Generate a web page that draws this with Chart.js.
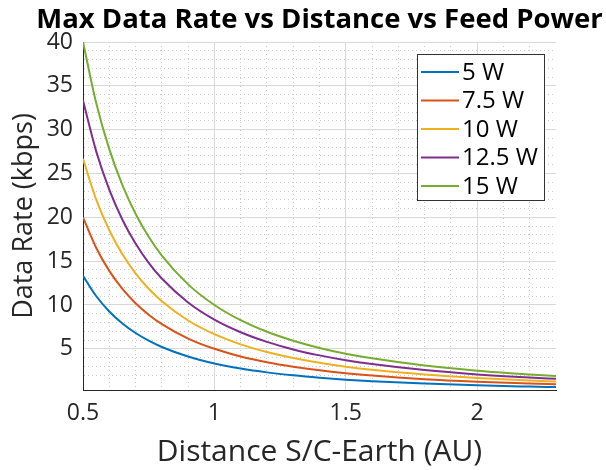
<!DOCTYPE html>
<html>
<head>
<meta charset="utf-8">
<script src="https://cdn.jsdelivr.net/npm/chart.js@4"></script>
<style>
  body { margin: 0; background: #fff; }
  #wrap { width: 606px; height: 470px; }
</style>
</head>
<body>
<div id="wrap"><canvas id="rateChart" width="606" height="470"></canvas></div>
<script>
// distance S/C-Earth (AU) and data rate (kbps)
const distances = [0.5, 0.55, 0.6, 0.65, 0.7, 0.75, 0.8, 0.9, 1.0, 1.1, 1.2, 1.3, 1.4, 1.5, 1.6, 1.8, 2.0, 2.2, 2.3];
const rate5W    = [13.33, 11.02, 9.26, 7.89, 6.80, 5.93, 5.21, 4.12, 3.33, 2.75, 2.31, 1.97, 1.70, 1.48, 1.30, 1.03, 0.83, 0.69, 0.63];
const rate7p5W  = [20.00, 16.53, 13.89, 11.83, 10.20, 8.89, 7.81, 6.17, 5.00, 4.13, 3.47, 2.96, 2.55, 2.22, 1.95, 1.54, 1.25, 1.03, 0.95];
const rate10W   = [26.67, 22.04, 18.52, 15.78, 13.61, 11.85, 10.42, 8.23, 6.67, 5.51, 4.63, 3.94, 3.40, 2.96, 2.60, 2.06, 1.67, 1.38, 1.26];
const rate12p5W = [33.33, 27.55, 23.15, 19.72, 17.01, 14.81, 13.02, 10.29, 8.33, 6.89, 5.79, 4.93, 4.25, 3.70, 3.26, 2.57, 2.08, 1.72, 1.58];
const rate15W   = [40.00, 33.06, 27.78, 23.67, 20.41, 17.78, 15.63, 12.35, 10.00, 8.26, 6.94, 5.92, 5.10, 4.44, 3.91, 3.09, 2.50, 2.07, 1.89];

const seriesNames = ['5 W', '7.5 W', '10 W', '12.5 W', '15 W'];
const seriesColors = ['#0072BD', '#D95319', '#EDB120', '#7E2F8E', '#77AC30'];
const xTickLabels = [0.5, 1, 1.5, 2];
const yTickLabels = [5, 10, 15, 20, 25, 30, 35, 40];
const chartTitle = 'Max Data Rate vs Distance vs Feed Power';

const findTick = (list, v) => list.find(t => Math.abs(t - v) < 1e-6);
const isIn = (list, v) => findTick(list, v) !== undefined;
const allSeries = [rate5W, rate7p5W, rate10W, rate12p5W, rate15W];
const FONT = 'Open Sans';

// title centred over the plot, drawn by hand so it isn't squeezed to the plot width
const plotTitle = {
  id: 'plotTitle',
  afterDraw(chart) {
    const ctx = chart.ctx;
    const area = chart.chartArea;
    ctx.save();
    ctx.font = 'bold 27.5px "' + FONT + '"';
    ctx.fillStyle = '#000';
    ctx.textAlign = 'center';
    ctx.textBaseline = 'alphabetic';
    ctx.fillText(chartTitle, (area.left + area.right) / 2, 28);
    ctx.restore();
  }
};

// legend drawn as a boxed list inside the top-right of the plot
const boxLegend = {
  id: 'boxLegend',
  afterDraw(chart) {
    const ctx = chart.ctx;
    const area = chart.chartArea;
    const w = 127, h = 146, rowH = 28.5;
    const left = Math.round(area.right - 12 - w);
    const top = Math.round(area.top + 12);
    ctx.save();
    ctx.fillStyle = '#fff';
    ctx.fillRect(left, top, w, h);
    ctx.strokeStyle = '#333';
    ctx.lineWidth = 1;
    ctx.strokeRect(left + 0.5, top + 0.5, w, h);
    ctx.font = '24px "' + FONT + '"';
    ctx.textBaseline = 'middle';
    chart.data.datasets.forEach((ds, i) => {
      const y = top + 18 + i * rowH;
      ctx.strokeStyle = ds.borderColor;
      ctx.lineWidth = 2;
      ctx.beginPath();
      ctx.moveTo(left + 4, y);
      ctx.lineTo(left + 42, y);
      ctx.stroke();
      ctx.fillStyle = '#000';
      ctx.fillText(ds.label, left + 45, y + 1);
    });
    ctx.restore();
  }
};

const ctx = document.getElementById('rateChart');

const rateChart = new Chart(ctx, {
  type: 'line',
  data: {
    datasets: allSeries.map((vals, i) => ({
      label: seriesNames[i],
      data: distances.map((d, j) => ({ x: d, y: vals[j] })),
      borderColor: seriesColors[i],
      backgroundColor: seriesColors[i],
      borderWidth: 2,
      pointRadius: 0,
      fill: false,
      cubicInterpolationMode: 'monotone'
    }))
  },
  options: {
    responsive: false,
    animation: false,
    layout: { padding: { left: 0, right: 50, top: 42, bottom: 0 } },
    plugins: {
      legend: { display: false },
      tooltip: { enabled: false },
      title: { display: false }
    },
    scales: {
      x: {
        type: 'linear',
        min: 0.5,
        max: 2.3,
        ticks: {
          stepSize: 0.1,
          autoSkip: false,
          maxRotation: 0,
          padding: 10,
          color: '#262626',
          font: { family: FONT, size: 23 },
          callback: v => {
            const t = findTick(xTickLabels, v);
            return t === undefined ? '' : String(t);
          }
        },
        grid: {
          drawTicks: false,
          color: c => {
            const v = c.tick ? c.tick.value : null;
            if (v === null || Math.abs(v - 2.3) < 1e-6) return 'rgba(0,0,0,0)';
            return isIn(xTickLabels, v) ? '#d8d8d8' : '#cccccc';
          }
        },
        border: {
          color: '#262626',
          dash: c => (c.tick && !isIn(xTickLabels, c.tick.value)) ? [1, 3] : []
        },
        title: {
          display: true,
          text: 'Distance S/C-Earth (AU)',
          color: '#262626',
          font: { family: FONT, size: 30 },
          padding: { top: 0, bottom: 0 }
        },
        afterFit: scale => { scale.height = 80; }
      },
      y: {
        min: 0.3,
        max: 40,
        ticks: {
          stepSize: 1,
          autoSkip: false,
          padding: 10,
          color: '#262626',
          font: { family: FONT, size: 23 },
          callback: v => {
            const t = findTick(yTickLabels, v);
            return t === undefined ? '' : String(t);
          }
        },
        grid: {
          drawTicks: false,
          color: c => {
            const v = c.tick ? c.tick.value : null;
            if (v === null) return 'rgba(0,0,0,0)';
            return isIn(yTickLabels, v) ? '#d8d8d8' : '#cccccc';
          }
        },
        border: {
          color: '#262626',
          dash: c => (c.tick && !isIn(yTickLabels, c.tick.value)) ? [1, 3] : []
        },
        title: {
          display: true,
          text: 'Data Rate (kbps)',
          color: '#262626',
          font: { family: FONT, size: 27 },
          padding: { top: 8, bottom: 0 }
        },
        afterFit: scale => { scale.width = 83; }
      }
    }
  },
  plugins: [plotTitle, boxLegend]
});
</script>
</body>
</html>
